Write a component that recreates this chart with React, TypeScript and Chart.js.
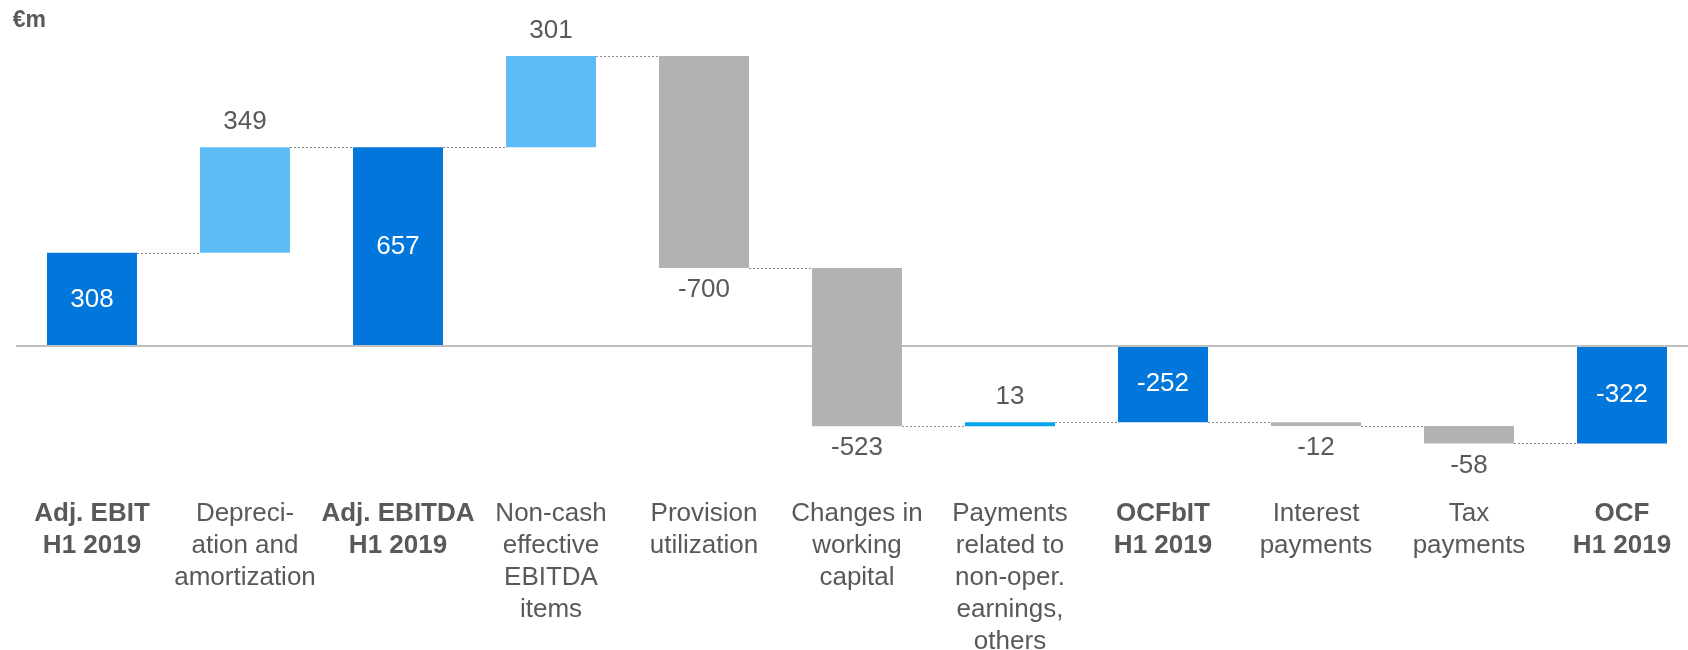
import React, { useEffect, useRef } from 'react';
import { Chart, registerables } from 'chart.js';

Chart.register(...registerables);

// ---- data ----
const categories: string[][] = [
  ['Adj. EBIT', 'H1 2019'],
  ['Depreci-', 'ation and', 'amortization'],
  ['Adj. EBITDA', 'H1 2019'],
  ['Non-cash', 'effective', 'EBITDA', 'items'],
  ['Provision', 'utilization'],
  ['Changes in', 'working', 'capital'],
  ['Payments', 'related to', 'non-oper.', 'earnings,', 'others'],
  ['OCFbIT', 'H1 2019'],
  ['Interest', 'payments'],
  ['Tax', 'payments'],
  ['OCF', 'H1 2019'],
];
const values: number[] = [308, 349, 657, 301, -700, -523, 13, -252, -12, -58, -322];
const kinds: string[] = [
  'total', 'increase', 'total', 'increase', 'decrease', 'decrease',
  'other', 'total', 'decrease', 'decrease', 'total',
];
const unitLabel = '€m';
const yMin = -480;
const yMax = 1000;

// ---- styles ----
const FONT = "'Liberation Sans', Arial, Helvetica, sans-serif";
const TEXT = '#595959';
const kindColors: Record<string, string> = {
  total: '#0277DB',
  increase: '#5DBCF5',
  decrease: '#B2B2B2',
  other: '#00A6EC',
};

function buildRanges(): [number, number][] {
  let running = 0;
  return values.map((v, i) => {
    if (kinds[i] === 'total') {
      running = v;
      return [0, v] as [number, number];
    }
    const start = running;
    running += v;
    return [start, running] as [number, number];
  });
}

export default function App() {
  const ref = useRef<HTMLCanvasElement>(null);

  useEffect(() => {
    const canvas = ref.current;
    if (!canvas) return;
    const ranges = buildRanges();

    const unitTitle = {
      id: 'unitTitle',
      afterDraw(chart: any) {
        const { ctx } = chart;
        ctx.save();
        ctx.font = `bold 23px ${FONT}`;
        ctx.fillStyle = TEXT;
        ctx.textAlign = 'left';
        ctx.textBaseline = 'middle';
        ctx.fillText(unitLabel, 12.7, 20.5);
        ctx.restore();
      },
    };

    const connectors = {
      id: 'connectors',
      afterDatasetsDraw(chart: any) {
        const { ctx } = chart;
        const meta = chart.getDatasetMeta(0);
        const y = chart.scales.y;
        ctx.save();
        ctx.strokeStyle = '#8C8C8C';
        ctx.lineWidth = 1;
        ctx.setLineDash([2, 2]);
        for (let i = 0; i < ranges.length - 1; i++) {
          const a = meta.data[i];
          const b = meta.data[i + 1];
          const level = ranges[i][1];
          const py = Math.round(y.getPixelForValue(level)) + 0.5;
          ctx.beginPath();
          ctx.moveTo(a.x + a.width / 2, py);
          ctx.lineTo(b.x - b.width / 2, py);
          ctx.stroke();
        }
        ctx.restore();
      },
    };

    const valueLabels = {
      id: 'valueLabels',
      afterDatasetsDraw(chart: any) {
        const { ctx } = chart;
        const meta = chart.getDatasetMeta(0);
        const y = chart.scales.y;
        ctx.save();
        ctx.font = `26px ${FONT}`;
        ctx.textAlign = 'center';
        ctx.textBaseline = 'middle';
        meta.data.forEach((el: any, i: number) => {
          const [s, e] = ranges[i];
          const ys = y.getPixelForValue(s);
          const ye = y.getPixelForValue(e);
          let py: number;
          if (kinds[i] === 'total') {
            ctx.fillStyle = '#FFFFFF';
            py = (ys + ye) / 2;
          } else if (values[i] > 0) {
            ctx.fillStyle = TEXT;
            py = Math.min(ys, ye) - 25;
          } else {
            ctx.fillStyle = TEXT;
            py = Math.max(ys, ye) + 22;
          }
          ctx.fillText(String(values[i]), el.x, py);
        });
        ctx.restore();
      },
    };

    const chart = new Chart(canvas, {
      type: 'bar',
      data: {
        labels: categories,
        datasets: [
          {
            data: ranges,
            backgroundColor: kinds.map((k) => kindColors[k]),
            borderWidth: 0,
            borderSkipped: false,
            barPercentage: 0.588,
            categoryPercentage: 1,
          },
        ],
      },
      options: {
        responsive: false,
        animation: false,
        devicePixelRatio: 1,
        layout: { padding: { left: 15.5, right: 0.5, top: 43.3, bottom: 0 } },
        plugins: {
          legend: { display: false },
          tooltip: { enabled: false },
          title: { display: false },
        },
        scales: {
          x: {
            grid: { display: false, drawTicks: false },
            border: { display: false },
            ticks: {
              color: TEXT,
              padding: 6.4,
              maxRotation: 0,
              minRotation: 0,
              autoSkip: false,
              font: (c: any) => ({
                family: FONT,
                size: 26,
                lineHeight: 1.2308,
                weight: kinds[c.index] === 'total' ? 'bold' : 'normal',
              }),
            },
            afterFit: (scale: any) => {
              scale.height = 158.7;
            },
          },
          y: {
            min: yMin,
            max: yMax,
            border: { display: false },
            ticks: { display: false, stepSize: 200 },
            grid: {
              drawTicks: false,
              color: (c: any) => (c.tick && c.tick.value === 0 ? '#BFBFBF' : 'rgba(0,0,0,0)'),
              lineWidth: (c: any) => (c.tick && c.tick.value === 0 ? 2 : 0),
            },
          },
        },
      },
      plugins: [connectors, valueLabels, unitTitle],
    } as any);

    return () => chart.destroy();
  }, []);

  return (
    <div
      style={{
        position: 'absolute',
        left: 0,
        top: 0,
        width: 1688,
        height: 650,
        overflow: 'hidden',
        background: '#FFFFFF',
      }}
    >
      <canvas ref={ref} width={1699} height={650} style={{ display: 'block' }} />
    </div>
  );
}
